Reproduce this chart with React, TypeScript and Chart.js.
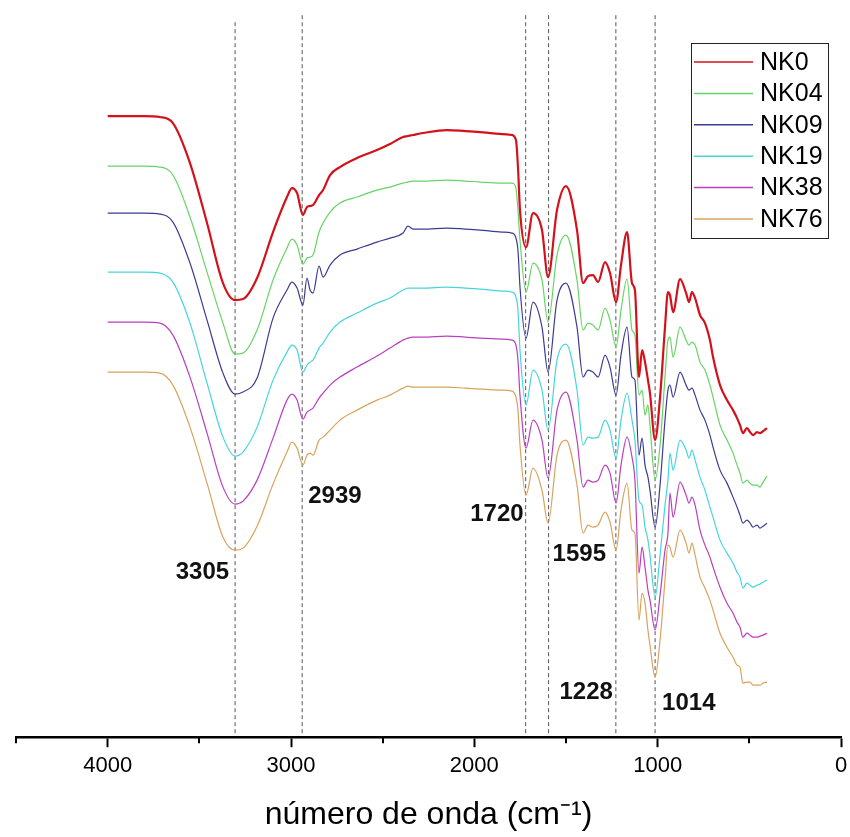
import React, { useEffect, useRef } from "react";
import { Chart, registerables } from "chart.js";

Chart.register(...registerables);

// Wavenumber grid (cm^-1)
const wavenumbers = [
  4000, 3900, 3800, 3715, 3644, 3551, 3458, 3371, 3305, 3262,
  3185, 3098, 3022, 2995, 2967, 2935, 2913, 2896, 2880, 2847,
  2825, 2787, 2733, 2640, 2531, 2460, 2389, 2362, 2335, 2280,
  2149, 2050, 1969, 1850, 1795, 1773, 1762, 1751, 1718, 1680,
  1631, 1598, 1549, 1500, 1440, 1407, 1380, 1353, 1325, 1287,
  1260, 1227, 1200, 1167, 1140, 1124, 1102, 1085, 1069, 1053,
  1042, 1014, 987, 960, 944, 933, 916, 878, 845, 829,
  813, 796, 769, 742, 715, 698, 660, 622, 589, 567,
  551, 535, 513, 496, 480, 458, 442, 425, 404,
];

// Stacked transmittance (arbitrary units, offset)
const nk0 = [
  621, 621, 621, 620, 614, 574, 514, 454, 437, 438,
  459, 505, 540, 549, 544, 522, 530, 531, 532, 542,
  547, 562, 570, 579, 587, 593, 600, 601, 602, 604,
  607, 606, 605, 603, 602, 597, 570, 527, 490, 524,
  507, 460, 527, 551, 507, 454, 461, 462, 455, 475,
  464, 435, 472, 505, 454, 447, 360, 387, 375, 357,
  344, 297, 340, 410, 445, 442, 425, 458, 444, 435,
  445, 439, 422, 414, 397, 380, 352, 337, 327, 319,
  312, 304, 309, 305, 302, 305, 304, 306, 309,
];
const nk04 = [
  571, 571, 571, 570, 562, 520, 465, 414, 383, 384,
  407, 457, 489, 498, 492, 473, 479, 480, 482, 505,
  514, 525, 534, 540, 547, 550, 554, 555, 556, 556,
  557, 556, 555, 554, 554, 549, 527, 497, 445, 474,
  457, 415, 482, 502, 457, 407, 414, 412, 407, 429,
  417, 390, 427, 458, 407, 402, 342, 347, 322, 332,
  312, 257, 292, 360, 397, 400, 380, 410, 397, 392,
  395, 392, 375, 367, 352, 340, 312, 297, 284, 272,
  264, 254, 257, 254, 252, 252, 250, 255, 261,
];
const nk09 = [
  524, 524, 524, 523, 515, 474, 417, 364, 343, 345,
  359, 419, 447, 455, 449, 432, 459, 447, 444, 471,
  460, 472, 482, 488, 495, 499, 504, 511, 508, 508,
  509, 508, 507, 505, 504, 499, 487, 450, 399, 435,
  410, 365, 437, 454, 410, 360, 367, 365, 360, 382,
  370, 342, 382, 410, 360, 357, 282, 299, 272, 260,
  247, 210, 252, 317, 347, 352, 340, 365, 352, 347,
  349, 342, 327, 317, 302, 290, 267, 254, 240, 230,
  222, 214, 217, 214, 210, 212, 209, 211, 214,
];
const nk19 = [
  465, 465, 465, 464, 455, 414, 354, 300, 281, 285,
  310, 357, 385, 392, 387, 365, 372, 375, 377, 389,
  394, 405, 415, 424, 434, 439, 447, 449, 449, 449,
  450, 449, 448, 446, 445, 440, 427, 387, 332, 367,
  347, 307, 377, 393, 347, 292, 300, 299, 300, 317,
  307, 279, 317, 344, 317, 297, 237, 232, 210, 197,
  182, 140, 182, 232, 257, 284, 267, 297, 287, 279,
  287, 277, 260, 247, 230, 220, 197, 184, 174, 165,
  160, 149, 154, 152, 150, 152, 153, 155, 157,
];
const nk38 = [
  415, 415, 415, 414, 402, 360, 304, 250, 233, 236,
  257, 299, 337, 343, 337, 318, 325, 327, 329, 339,
  344, 352, 360, 370, 381, 389, 397, 399, 400, 400,
  401, 400, 399, 398, 397, 392, 377, 342, 289, 317,
  297, 259, 327, 345, 297, 250, 257, 255, 257, 272,
  264, 234, 272, 300, 280, 257, 164, 190, 170, 147,
  137, 107, 142, 187, 204, 244, 220, 255, 242, 234,
  240, 232, 207, 192, 180, 170, 150, 134, 124, 115,
  110, 100, 104, 102, 100, 100, 101, 102, 104,
];
const nk76 = [
  365, 365, 365, 364, 352, 310, 254, 200, 187, 189,
  211, 253, 285, 295, 289, 272, 282, 284, 282, 297,
  300, 307, 317, 327, 337, 342, 349, 351, 350, 350,
  350, 349, 348, 347, 346, 340, 327, 292, 242, 269,
  247, 214, 282, 297, 252, 204, 212, 210, 212, 225,
  215, 187, 227, 254, 207, 204, 117, 144, 134, 107,
  92, 60, 97, 157, 192, 190, 180, 207, 194, 184,
  194, 182, 160, 149, 137, 127, 104, 90, 80, 72,
  70, 54, 55, 55, 52, 52, 52, 54, 55,
];

const seriesNames = ["NK0", "NK04", "NK09", "NK19", "NK38", "NK76"];
const seriesValues = [nk0, nk04, nk09, nk19, nk38, nk76];
const seriesColors = ["#d4111b", "#66d466", "#3b3b96", "#45d6dd", "#b93fbf", "#d9a35e"];
const seriesWidths = [2.2, 1.2, 1.2, 1.2, 1.2, 1.2];

// Marked bands (cm^-1)
const peakWavenumbers = [3305, 2939, 1720, 1595, 1228, 1014];
const peakLineTops = [717, 722, 724, 730, 724, 724];

// Axis ticks
const majorTicks = [0, 1000, 2000, 3000, 4000];
const minorTicks = [500, 1500, 2500, 3500, 4500];

const FONT = 'Arial, "Liberation Sans", sans-serif';

const peakLabelPlugin = {
  id: "peakLabels",
  afterDatasetsDraw(chart: any, _args: any, opts: any) {
    const xs = chart.scales.x;
    const ys = chart.scales.y;
    const ctx = chart.ctx;
    ctx.save();
    ctx.font = `bold ${opts.size}px ${FONT}`;
    ctx.fillStyle = "#111";
    ctx.textBaseline = "middle";
    peakWavenumbers.forEach((w, i) => {
      const p = opts.placement[i];
      ctx.textAlign = p.align;
      ctx.fillText(String(w), xs.getPixelForValue(w) + p.dx, ys.getPixelForValue(p.y));
    });
    ctx.restore();
  },
};

const minorTickPlugin = {
  id: "minorTicks",
  afterDraw(chart: any, _args: any, opts: any) {
    const xs = chart.scales.x;
    const ctx = chart.ctx;
    ctx.save();
    ctx.strokeStyle = "#000";
    ctx.lineWidth = 2;
    minorTicks.forEach((v) => {
      const px = Math.round(xs.getPixelForValue(v));
      ctx.beginPath();
      ctx.moveTo(px, xs.top);
      ctx.lineTo(px, xs.top + opts.length);
      ctx.stroke();
    });
    ctx.restore();
  },
};

const boxLegendPlugin = {
  id: "boxLegend",
  afterDraw(chart: any, _args: any, opts: any) {
    const ctx = chart.ctx;
    ctx.save();
    ctx.strokeStyle = "#222";
    ctx.lineWidth = 1;
    ctx.strokeRect(opts.left + 0.5, opts.top + 0.5, opts.width, opts.height);
    ctx.font = `${opts.size}px ${FONT}`;
    ctx.textBaseline = "middle";
    ctx.textAlign = "left";
    seriesNames.forEach((name, i) => {
      const y = opts.firstY + i * opts.spacing;
      ctx.strokeStyle = seriesColors[i];
      ctx.lineWidth = 1.5;
      ctx.beginPath();
      ctx.moveTo(opts.left + 3, y);
      ctx.lineTo(opts.left + 3 + opts.lineLen, y);
      ctx.stroke();
      ctx.fillStyle = "#000";
      ctx.fillText(name, opts.left + opts.textX, y + 1);
    });
    ctx.restore();
  },
};

export default function App() {
  const ref = useRef<HTMLCanvasElement | null>(null);

  useEffect(() => {
    if (!ref.current) return;
    const spectra = seriesNames.map((name, s) => ({
      label: name,
      data: wavenumbers.map((w, i) => ({ x: w, y: seriesValues[s][i] })),
      borderColor: seriesColors[s],
      borderWidth: seriesWidths[s],
      pointRadius: 0,
      tension: 0.25,
      cubicInterpolationMode: "monotone" as const,
      fill: false,
      order: s === 0 ? 0 : 1,
    }));
    const markers = peakWavenumbers.map((w, i) => ({
      label: "band " + w,
      data: [
        { x: w, y: 4 },
        { x: w, y: peakLineTops[i] },
      ],
      borderColor: "#555",
      borderWidth: 1,
      borderDash: [4, 3],
      pointRadius: 0,
      fill: false,
      order: 2,
    }));

    const chart = new Chart(ref.current, {
      type: "line",
      data: { datasets: [...spectra, ...markers] as any },
      options: {
        animation: false,
        responsive: false,
        layout: { padding: { top: 12, left: 16, right: 9, bottom: 1 } },
        plugins: {
          legend: { display: false },
          tooltip: { enabled: false },
          peakLabels: {
            size: 24,
            placement: [
              { align: "right", dx: -6, y: 165 },
              { align: "left", dx: 6, y: 241 },
              { align: "right", dx: -2, y: 223 },
              { align: "left", dx: 4, y: 183 },
              { align: "right", dx: -3, y: 45 },
              { align: "left", dx: 7, y: 34 },
            ],
          },
          minorTicks: { length: 6 },
          boxLegend: {
            left: 691,
            top: 43,
            width: 137,
            height: 195,
            firstY: 62,
            spacing: 31.4,
            lineLen: 59,
            textX: 69,
            size: 25,
          },
        } as any,
        scales: {
          x: {
            type: "linear",
            min: 0,
            max: 4500,
            reverse: true,
            afterBuildTicks: (scale: any) => {
              scale.ticks = majorTicks.map((v) => ({ value: v }));
            },
            grid: {
              display: true,
              drawOnChartArea: false,
              drawTicks: true,
              tickLength: 10,
              tickWidth: 2,
              tickColor: "#000",
            },
            border: { display: true, color: "#000", width: 2.5 },
            ticks: {
              color: "#000",
              padding: 6,
              font: { family: FONT, size: 22 },
              maxRotation: 0,
              callback: (v: any) => String(v),
            },
            title: {
              display: true,
              text: "número de onda (cm⁻¹)",
              color: "#000",
              font: { family: FONT, size: 32 },
              padding: { top: 10, bottom: 2 },
            },
          },
          y: { display: false, min: 0, max: 725 },
        },
      },
      plugins: [peakLabelPlugin, minorTickPlugin, boxLegendPlugin],
    });
    return () => chart.destroy();
  }, []);

  return (
    <div style={{ position: "absolute", left: 0, top: 0, width: 850, height: 837 }}>
      <canvas ref={ref} width={850} height={837} />
    </div>
  );
}
